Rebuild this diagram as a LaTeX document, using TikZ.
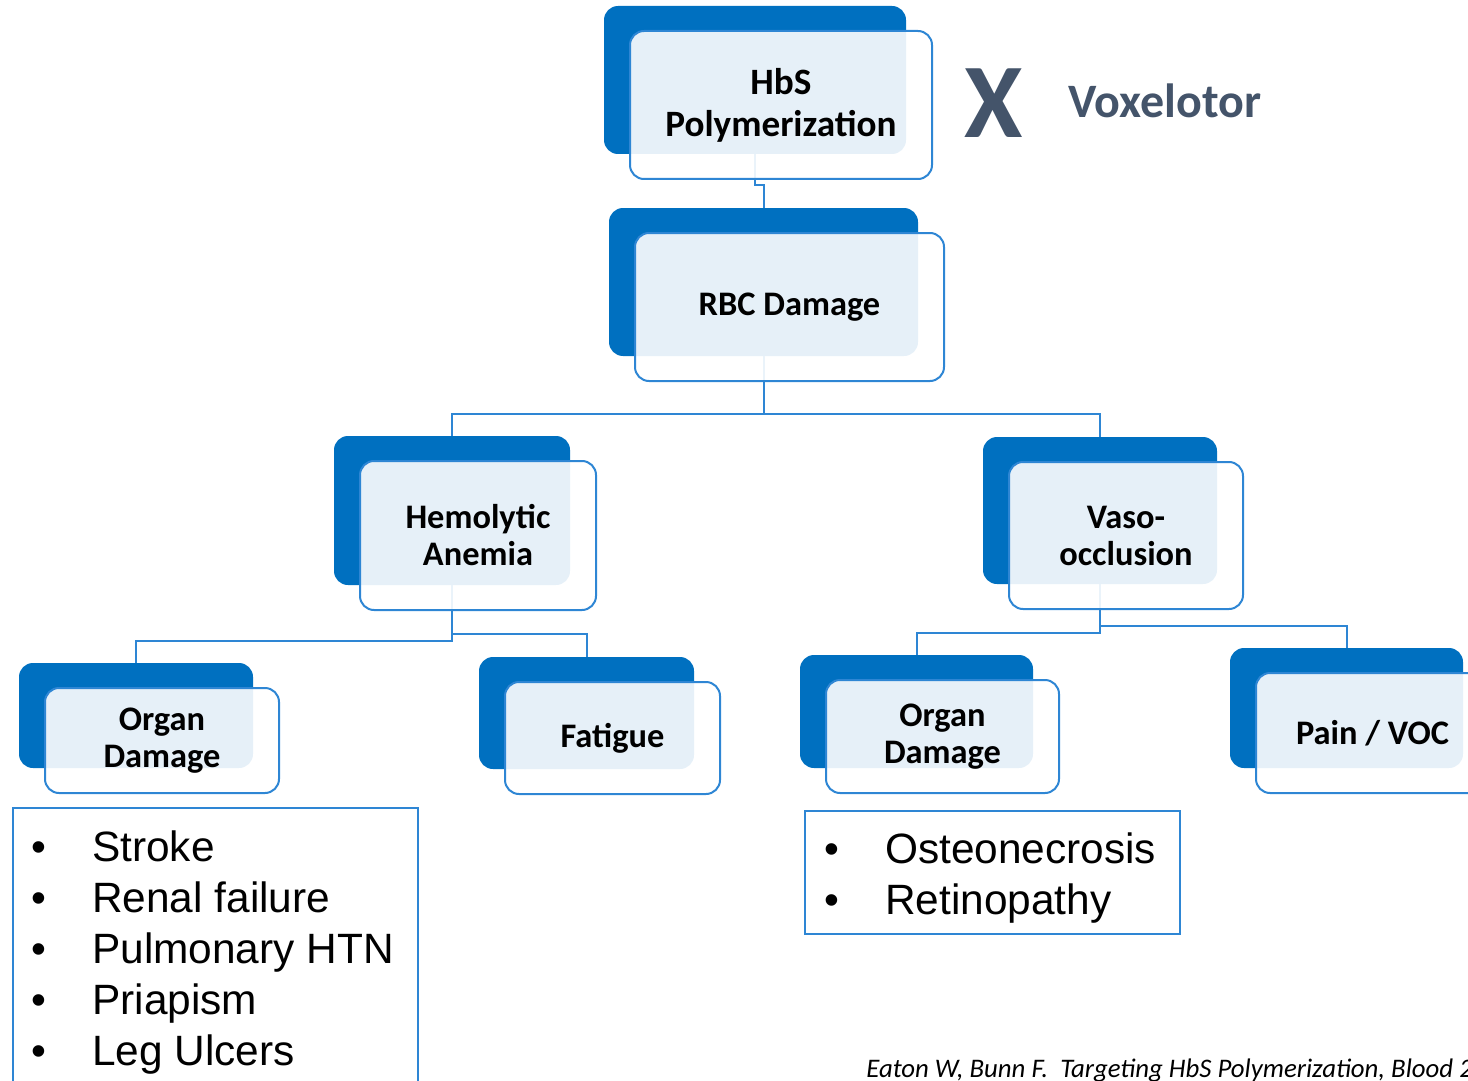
\documentclass[tikz,border=0pt]{standalone}
\usepackage{fontspec}
\setmainfont{Carlito}
\newfontfamily\arialfont{Liberation Sans}
\definecolor{boxblue}{HTML}{0070C0}
\definecolor{lineblue}{RGB}{46,134,212}
\definecolor{slate}{RGB}{68,84,106}
\tikzset{
  back/.style={fill=boxblue, rounded corners=7pt, inner sep=0pt},
  front/.style={draw=lineblue, line width=1pt, fill=white, fill opacity=0.9,
    text opacity=1, rounded corners=7pt, align=center, inner sep=0pt,
    font=\bfseries\fontsize{17.2}{18.5}\selectfont},
  link/.style={draw=lineblue, line width=1pt},
  listbox/.style={draw=lineblue, line width=0.8pt, inner sep=0pt},
  items/.style={font=\arialfont\fontsize{21.2}{25.5}\selectfont, inner sep=0pt, anchor=base west},
}
\begin{document}
\begin{tikzpicture}[x=0.5pt, y=-0.5pt]
      \useasboundingbox (0,0) rectangle (1468,1081);
      % dark back boxes
      \node[back, minimum width=151pt, minimum height=74pt] (hbsback) at (755,80) {};
      \node[back, minimum width=154.5pt, minimum height=74pt] (rbcback) at (763.5,282) {};
      \node[back, minimum width=118pt, minimum height=74.5pt] (hemback) at (452,510.5) {};
      \node[back, minimum width=117pt, minimum height=73.5pt] (vasoback) at (1100,510.5) {};
      \node[back, minimum width=117pt, minimum height=52.5pt] (organlback) at (136,715.5) {};
      \node[back, minimum width=107.5pt, minimum height=56pt] (fatigueback) at (586.5,713) {};
      \node[back, minimum width=116.5pt, minimum height=56.5pt] (organrback) at (916.5,711.5) {};
      \node[back, minimum width=116.5pt, minimum height=60pt] (painback) at (1346.5,708) {};
      % connectors
      \begin{scope}[link]
        \draw (hbsback.south) -- ++(0,31) -| (rbcback.north);
        \draw (rbcback.south) -- ++(0,58) coordinate (rbcfork) -| (hemback.north);
        \draw (rbcfork) -| (vasoback.north);
        \draw (hemback.south) -- ++(0,56) -| (organlback.north);
        \draw (hemback.south) -- ++(0,49) -| (fatigueback.north);
        \draw (vasoback.south) -- ++(0,49) -| (organrback.north);
        \draw (vasoback.south) -- ++(0,42) -| (painback.north);
      \end{scope}
      % front boxes
      \node[front, minimum width=151pt, minimum height=74pt, font=\bfseries\fontsize{18.6}{21}\selectfont] (hbs) at (781,105) {HbS\\Polymerization};
      \node[front, minimum width=154.5pt, minimum height=74pt] (rbc) at (789.5,307) {RBC Damage};
      \node[front, minimum width=118pt, minimum height=74.5pt] (hem) at (478,535.5) {Hemolytic\\Anemia};
      \node[front, minimum width=117pt, minimum height=73.5pt] (vaso) at (1126,535.5) {Vaso-\\occlusion};
      \node[front, minimum width=117pt, minimum height=52.5pt] (organl) at (162,740.5) {Organ\\Damage};
      \node[front, minimum width=107.5pt, minimum height=56pt] (fatigue) at (612.5,738) {Fatigue};
      \node[front, minimum width=116.5pt, minimum height=56.5pt] (organr) at (942.5,736.5) {Organ\\Damage};
      \node[front, minimum width=116.5pt, minimum height=60pt] (pain) at (1372.5,733) {Pain / VOC};
      % drug
      \node[font=\bfseries\fontsize{53}{53}\selectfont, text=slate, anchor=base, inner sep=0pt] (cross) at (994,138) {X};
      \node[font=\bfseries\fontsize{24}{24}\selectfont, text=slate, anchor=base west, inner sep=0pt] (drug) at (1068,118) {Voxelotor};
      % lists
      \node[listbox, anchor=north west, minimum width=202.5pt, minimum height=150pt] (leftbox) at (12,807) {};
      \node[items] (leftitems) at (31,861) {\begin{tabular}[t]{@{}l@{\hspace{23pt}}l@{}}
        \textbullet & Stroke\\
        \textbullet & Renal failure\\
        \textbullet & Pulmonary HTN\\
        \textbullet & Priapism\\
        \textbullet & Leg Ulcers
      \end{tabular}};
      \node[listbox, anchor=north west, minimum width=187.5pt, minimum height=61.5pt] (rightbox) at (804,810) {};
      \node[items] (rightitems) at (824,863) {\begin{tabular}[t]{@{}l@{\hspace{23pt}}l@{}}
        \textbullet & Osteonecrosis\\
        \textbullet & Retinopathy
      \end{tabular}};
      % source
      \node[font=\itshape\fontsize{13.4}{14}\selectfont, anchor=base west, inner sep=0pt] (source) at (866,1077)
        {Eaton W, Bunn F.\ \ Targeting HbS Polymerization, Blood 2};
    \end{tikzpicture}
\end{document}
